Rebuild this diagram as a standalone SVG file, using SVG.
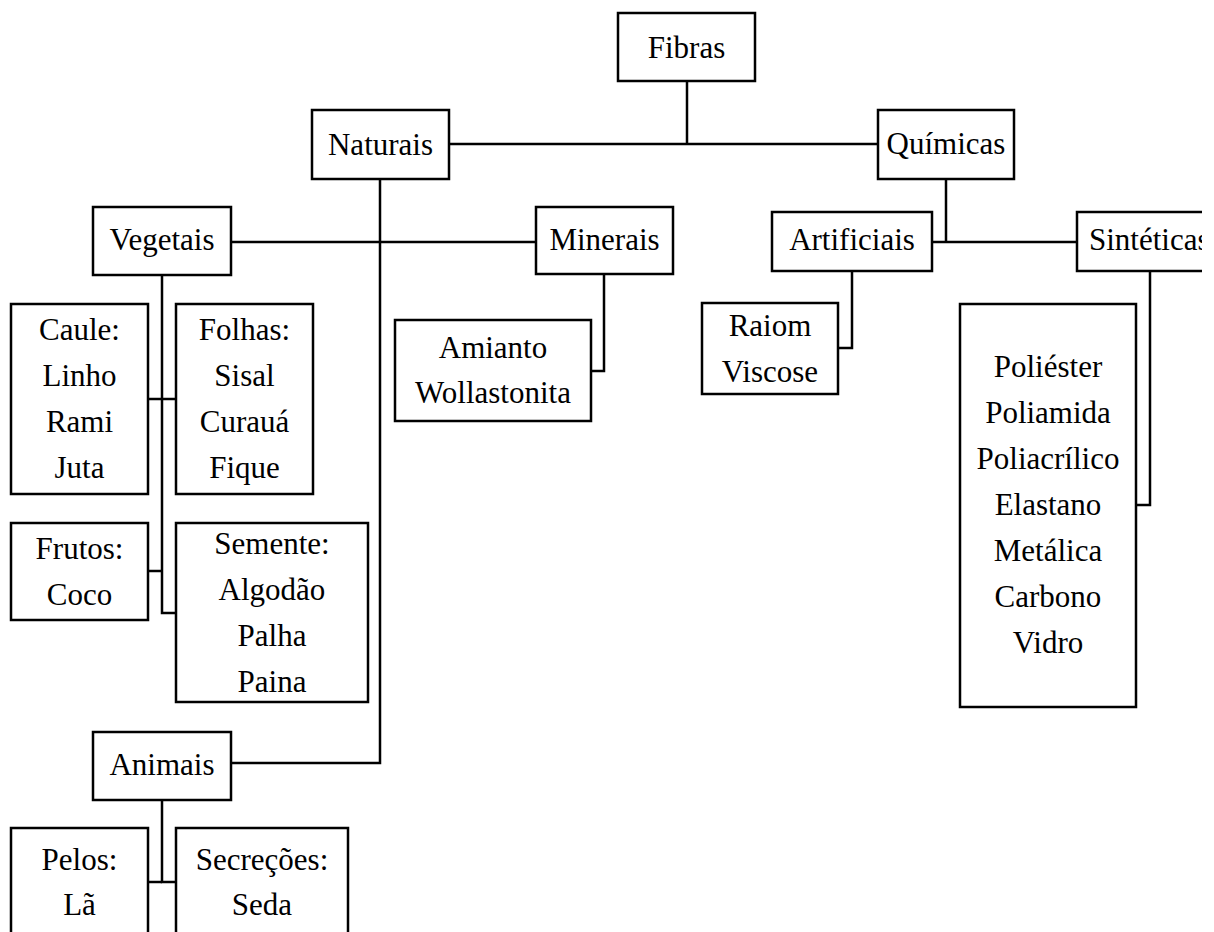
<svg xmlns="http://www.w3.org/2000/svg" width="1214" height="932" viewBox="0 0 1214 932">
  <rect x="0" y="0" width="1214" height="932" fill="#ffffff"/>

  <!-- connectors -->
  <g id="connectors" fill="none" stroke="#000000" stroke-width="2.5">
    <!-- Fibras to Naturais / Químicas -->
    <path d="M687 81 V144"/>
    <path d="M449 144 H878"/>
    <!-- Naturais trunk down to Animais -->
    <path d="M380 179 V763 H231"/>
    <!-- Vegetais to Minerais -->
    <path d="M231 242 H536"/>
    <!-- Vegetais trunk -->
    <path d="M162 275 V613 H176"/>
    <path d="M148 399 H176"/>
    <path d="M148 571 H162"/>
    <!-- Minerais to Amianto -->
    <path d="M604 274 V371 H591"/>
    <!-- Químicas to Artificiais / Sintéticas -->
    <path d="M946 179 V242"/>
    <path d="M932 242 H1077"/>
    <!-- Artificiais to Raiom -->
    <path d="M852 271 V348 H838"/>
    <!-- Sintéticas to list -->
    <path d="M1150 271 V505 H1136"/>
    <!-- Animais trunk -->
    <path d="M162 800 V882 H176"/>
    <path d="M148 882 H162"/>
  </g>

  <g id="nodes" font-family="'Liberation Serif', Tinos, 'Times New Roman', serif" font-size="31" text-anchor="middle" fill="#000000">
    <g id="fibras">
      <rect x="618" y="13" width="137" height="68" fill="#ffffff" stroke="#000000" stroke-width="2.5"/>
      <text x="686.5" y="58">Fibras</text>
    </g>
    <g id="naturais">
      <rect x="312" y="110" width="137" height="69" fill="#ffffff" stroke="#000000" stroke-width="2.5"/>
      <text x="380.5" y="155">Naturais</text>
    </g>
    <g id="quimicas">
      <rect x="878" y="110" width="136" height="69" fill="#ffffff" stroke="#000000" stroke-width="2.5"/>
      <text x="946" y="154">Químicas</text>
    </g>
    <g id="vegetais">
      <rect x="93" y="207" width="138" height="68" fill="#ffffff" stroke="#000000" stroke-width="2.5"/>
      <text x="162" y="250">Vegetais</text>
    </g>
    <g id="minerais">
      <rect x="536" y="207" width="137" height="67" fill="#ffffff" stroke="#000000" stroke-width="2.5"/>
      <text x="604.5" y="250">Minerais</text>
    </g>
    <g id="artificiais">
      <rect x="772" y="212" width="160" height="59" fill="#ffffff" stroke="#000000" stroke-width="2.5"/>
      <text x="852" y="250">Artificiais</text>
    </g>
    <g id="sinteticas">
      <rect x="1077" y="212" width="145" height="59" fill="#ffffff" stroke="#000000" stroke-width="2.5"/>
      <text x="1089" y="250" text-anchor="start">Sintéticas</text>
    </g>
    <g id="caule">
      <rect x="11" y="304" width="137" height="190" fill="#ffffff" stroke="#000000" stroke-width="2.5"/>
      <text x="79.5" y="340">Caule:</text>
      <text x="79.5" y="386">Linho</text>
      <text x="79.5" y="432">Rami</text>
      <text x="79.5" y="478">Juta</text>
    </g>
    <g id="folhas">
      <rect x="176" y="304" width="137" height="190" fill="#ffffff" stroke="#000000" stroke-width="2.5"/>
      <text x="244.5" y="340">Folhas:</text>
      <text x="244.5" y="386">Sisal</text>
      <text x="244.5" y="432">Curauá</text>
      <text x="244.5" y="478">Fique</text>
    </g>
    <g id="frutos">
      <rect x="11" y="523" width="137" height="97" fill="#ffffff" stroke="#000000" stroke-width="2.5"/>
      <text x="79.5" y="559">Frutos:</text>
      <text x="79.5" y="605">Coco</text>
    </g>
    <g id="semente">
      <rect x="176" y="523" width="192" height="179" fill="#ffffff" stroke="#000000" stroke-width="2.5"/>
      <text x="272" y="554">Semente:</text>
      <text x="272" y="600">Algodão</text>
      <text x="272" y="646">Palha</text>
      <text x="272" y="692">Paina</text>
    </g>
    <g id="amianto">
      <rect x="395" y="320" width="196" height="101" fill="#ffffff" stroke="#000000" stroke-width="2.5"/>
      <text x="493" y="358">Amianto</text>
      <text x="493" y="403">Wollastonita</text>
    </g>
    <g id="raiom">
      <rect x="702" y="303" width="136" height="91" fill="#ffffff" stroke="#000000" stroke-width="2.5"/>
      <text x="770" y="336">Raiom</text>
      <text x="770" y="382">Viscose</text>
    </g>
    <g id="sinteticas-lista">
      <rect x="960" y="304" width="176" height="403" fill="#ffffff" stroke="#000000" stroke-width="2.5"/>
      <text x="1048" y="377">Poliéster</text>
      <text x="1048" y="423">Poliamida</text>
      <text x="1048" y="469">Poliacrílico</text>
      <text x="1048" y="515">Elastano</text>
      <text x="1048" y="561">Metálica</text>
      <text x="1048" y="607">Carbono</text>
      <text x="1048" y="653">Vidro</text>
    </g>
    <g id="animais">
      <rect x="93" y="732" width="138" height="68" fill="#ffffff" stroke="#000000" stroke-width="2.5"/>
      <text x="162" y="775">Animais</text>
    </g>
    <g id="pelos">
      <rect x="11" y="828" width="137" height="130" fill="#ffffff" stroke="#000000" stroke-width="2.5"/>
      <text x="79.5" y="870">Pelos:</text>
      <text x="79.5" y="915">Lã</text>
    </g>
    <g id="secrecoes">
      <rect x="176" y="828" width="172" height="130" fill="#ffffff" stroke="#000000" stroke-width="2.5"/>
      <text x="262" y="870">Secreções:</text>
      <text x="262" y="915">Seda</text>
    </g>
  </g>

  <!-- blank right margin, trimming the Sintéticas box -->
  <rect x="1202" y="0" width="12" height="932" fill="#ffffff"/>
</svg>
